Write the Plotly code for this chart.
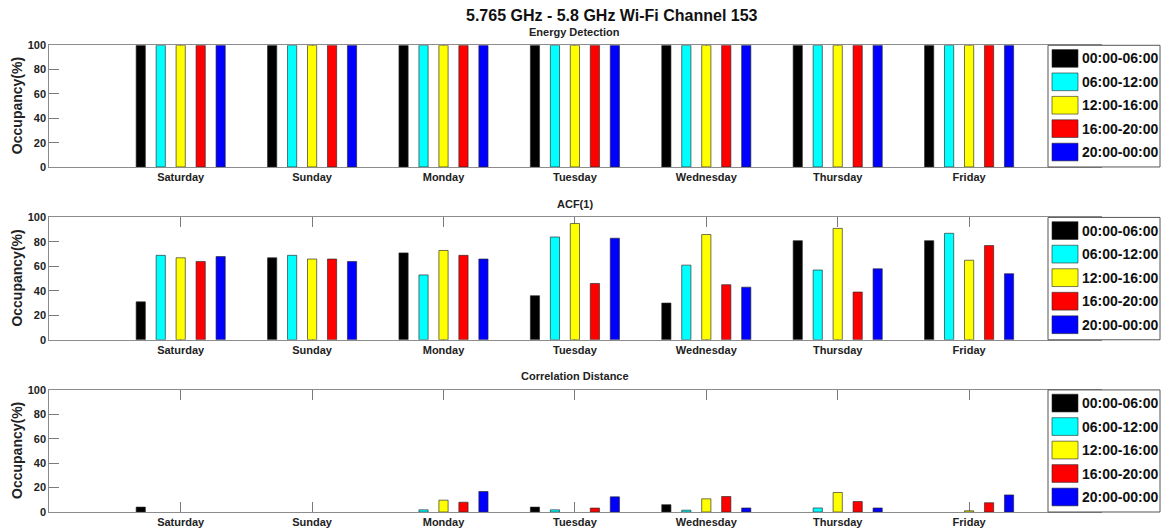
import plotly.graph_objects as go

# ---- data -------------------------------------------------------------
days = ["Saturday", "Sunday", "Monday", "Tuesday", "Wednesday", "Thursday", "Friday"]
periods = ["00:00-06:00", "06:00-12:00", "12:00-16:00", "16:00-20:00", "20:00-00:00"]
period_colors = ["#000000", "#00FFFF", "#FFFF00", "#FF0000", "#0000FF"]

# Occupancy (%) per time-of-day period, one list per period, values by day
energy_0006 = [100, 100, 100, 100, 100, 100, 100]
energy_0612 = [100, 100, 100, 100, 100, 100, 100]
energy_1216 = [100, 100, 100, 100, 100, 100, 100]
energy_1620 = [100, 100, 100, 100, 100, 100, 100]
energy_2000 = [100, 100, 100, 100, 100, 100, 100]

acf_0006 = [31, 67, 71, 36, 30, 81, 81]
acf_0612 = [69, 69, 53, 84, 61, 57, 87]
acf_1216 = [67, 66, 73, 95, 86, 91, 65]
acf_1620 = [64, 66, 69, 46, 45, 39, 77]
acf_2000 = [68, 64, 66, 83, 43, 58, 54]

corr_0006 = [4, 0, 0, 4, 6, 0, 0]
corr_0612 = [0, 0, 1.8, 1.8, 1.5, 3.3, 0]
corr_1216 = [0, 0, 9.7, 0, 10.8, 16, 1]
corr_1620 = [0, 0, 8, 3.2, 12.7, 8.6, 7.6]
corr_2000 = [0, 0, 16.8, 12.4, 3.3, 3.3, 14]

main_title = "5.765 GHz - 5.8 GHz Wi-Fi Channel 153"
panel_titles = ["Energy Detection", "ACF(1)", "Correlation Distance"]
panel_series = [
    [energy_0006, energy_0612, energy_1216, energy_1620, energy_2000],
    [acf_0006, acf_0612, acf_1216, acf_1620, acf_2000],
    [corr_0006, corr_0612, corr_1216, corr_1620, corr_2000],
]
y_ticks = [0, 20, 40, 60, 80, 100]

# ---- layout helpers (pixel -> paper) -----------------------------------
W, H = 1166, 531
FONT = "Liberation Sans, Arial, sans-serif"


def px(x):
    return x / W


def py(y):
    return 1 - y / H


panel_px = [(40.2, 164.7), (216.3, 341.5), (392.8, 517.7)]  # top, bottom
plot_left, plot_right = 49.3, 1100.5
legend_left, legend_right = 1048, 1160

day_pos = list(range(1, len(days) + 1))
slot = 0.152      # spacing between bars inside a day group
bar_w = 0.07      # bar width

fig = go.Figure()
shapes, annotations = [], []

for i, (title, series) in enumerate(zip(panel_titles, panel_series)):
    sfx = "" if i == 0 else str(i + 1)
    top, bottom = panel_px[i]
    for k, (name, vals, col) in enumerate(zip(periods, series, period_colors)):
        # empty bars get no outline so nothing is drawn on the baseline
        edge_w = [1 if v > 0 else 0 for v in vals]
        fig.add_trace(go.Bar(
            x=day_pos, y=vals, name=name,
            width=bar_w, offset=(k - 2) * slot - bar_w / 2,
            marker=dict(color=col, line=dict(color="rgba(40,40,40,0.65)", width=edge_w)),
            xaxis="x" + sfx, yaxis="y" + sfx, showlegend=False,
        ))

    fig.update_layout({
        "xaxis" + sfx: dict(
            domain=[px(plot_left), px(plot_right)], range=[0, 8],
            tickvals=day_pos, ticktext=days, ticks="inside", ticklen=10,
            tickcolor="#7a7a7a", showline=True, linecolor="#8c8c8c", linewidth=1,
            mirror="ticks", showgrid=False, zeroline=False, anchor="y" + sfx,
            layer="below traces",
            tickfont=dict(family=FONT, size=11, color="#222222", weight="bold"),
        ),
        "yaxis" + sfx: dict(
            domain=[py(bottom), py(top)], range=[0, 100],
            tickvals=y_ticks, ticks="inside", ticklen=10,
            tickcolor="#7a7a7a", showline=True, linecolor="#8c8c8c", linewidth=1,
            mirror="ticks", showgrid=False, zeroline=False, anchor="x" + sfx,
            layer="below traces",
            tickfont=dict(family=FONT, size=11, color="#222222", weight="bold"),
        ),
    })

    # panel subtitle
    annotations.append(dict(
        text=title, x=px((plot_left + plot_right) / 2), y=py(top - 14),
        xref="paper", yref="paper", showarrow=False, xanchor="center", yanchor="middle",
        font=dict(family=FONT, size=11, color="#222222", weight="bold"),
    ))
    # y-axis title
    annotations.append(dict(
        text="Occupancy(%)", x=px(17), y=py((top + bottom) / 2), textangle=-90,
        xref="paper", yref="paper", showarrow=False, xanchor="center", yanchor="middle",
        font=dict(family=FONT, size=14, color="#222222", weight="bold"),
    ))

    # legend box
    shapes.append(dict(
        type="rect", xref="paper", yref="paper", layer="above",
        x0=px(legend_left), x1=px(legend_right), y0=py(bottom), y1=py(top),
        fillcolor="white", line=dict(color="#555555", width=1),
    ))
    step = (bottom - top) / 5.2
    for k, (name, col) in enumerate(zip(periods, period_colors)):
        y0 = top + 4.4 + k * step
        y1 = y0 + 0.755 * step
        shapes.append(dict(
            type="rect", xref="paper", yref="paper", layer="above",
            x0=px(1052), x1=px(1078), y0=py(y1), y1=py(y0),
            fillcolor=col, line=dict(color="rgba(40,40,40,0.6)", width=1),
        ))
        annotations.append(dict(
            text=name, x=px(1080), y=py((y0 + y1) / 2),
            xref="paper", yref="paper", showarrow=False, xanchor="left", yanchor="middle",
            font=dict(family=FONT, size=14, color="#111111", weight="bold"),
        ))

annotations.append(dict(
    text=main_title, x=px(612), y=py(10),
    xref="paper", yref="paper", showarrow=False, xanchor="center", yanchor="middle",
    font=dict(family=FONT, size=16, color="#111111", weight="bold"),
))

fig.update_layout(
    width=W, height=H, margin=dict(l=0, r=0, t=0, b=0),
    paper_bgcolor="white", plot_bgcolor="white",
    barmode="overlay", showlegend=False,
    shapes=shapes, annotations=annotations,
)

fig.write_html("out.html")
